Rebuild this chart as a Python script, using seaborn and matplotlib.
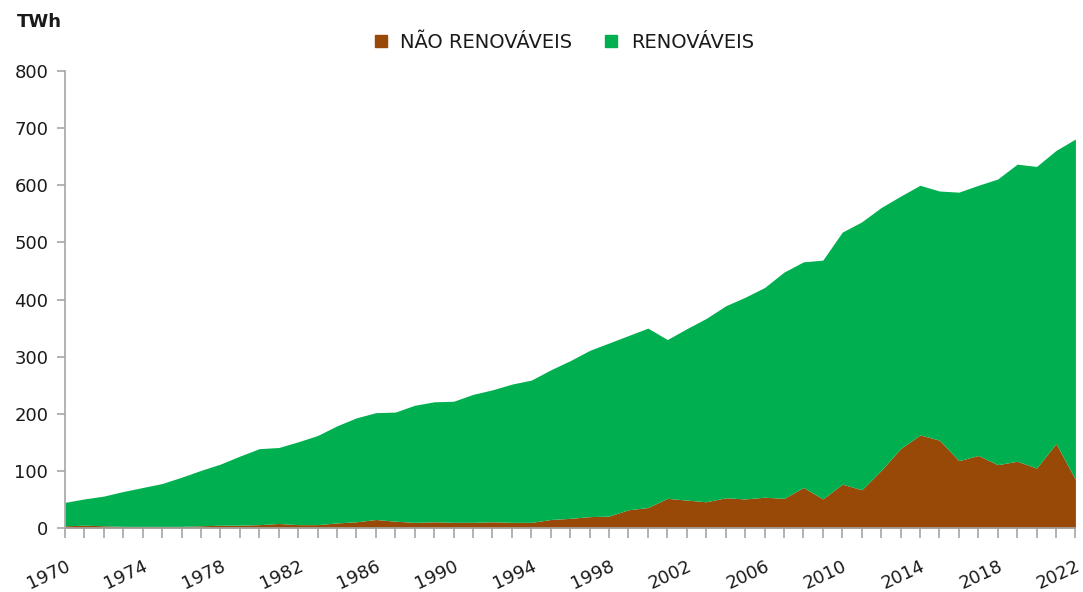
import numpy as np
import pandas as pd
import seaborn as sns
import matplotlib
matplotlib.use("Agg")
import matplotlib.pyplot as plt
from matplotlib.lines import Line2D

# data (TWh)
anos = list(range(1970, 2023))

nao_renovaveis = [4, 5, 4, 3, 3, 3, 3, 4, 5, 5,
                  6, 8, 6, 6, 9, 11, 15, 12, 10, 11,
                  10, 10, 11, 10, 10, 15, 17, 20, 21, 32,
                  36, 52, 49, 46, 53, 51, 54, 52, 71, 51,
                  77, 67, 101, 139, 163, 154, 118, 127, 111, 117,
                  105, 148, 85]

renovaveis = [41, 46, 52, 61, 68, 75, 86, 97, 107, 121,
              133, 133, 145, 156, 170, 182, 187, 191, 205, 210,
              212, 224, 231, 242, 249, 262, 276, 291, 303, 305,
              314, 278, 300, 321, 336, 353, 367, 396, 395, 418,
              441, 469, 460, 442, 437, 436, 470, 473, 500, 520,
              528, 513, 596]

series = ["NÃO RENOVÁVEIS", "RENOVÁVEIS"]
cores = ["#984807", "#00B050"]

df = pd.DataFrame({"ano": anos, series[0]: nao_renovaveis, series[1]: renovaveis})

sns.set_theme(style="white")
plt.rcParams["font.family"] = ["DejaVu Sans"]

fig = plt.figure(figsize=(10.83, 5.92), dpi=100)
ax = fig.add_axes([0.060, 0.108, 0.933, 0.772])

ax.stackplot(df["ano"], df[series[0]], df[series[1]], colors=cores, linewidth=0)

ax.set_xlim(1970, 2022)
ax.set_ylim(0, 800)
ax.set_yticks(np.arange(0, 801, 100))
ax.set_xticks(np.arange(1970, 2023, 4))
ax.set_xticks(anos, minor=True)

for s in ["top", "right"]:
    ax.spines[s].set_visible(False)
for s in ["left", "bottom"]:
    ax.spines[s].set_color("#a6a6a6")
    ax.spines[s].set_linewidth(1.2)

ax.tick_params(axis="y", which="major", direction="out", length=6, width=1.2,
               color="#a6a6a6", labelsize=13, labelcolor="#1a1a1a", pad=6, left=True)
ax.tick_params(axis="x", which="both", direction="out", length=7, width=1.2,
               color="#a6a6a6", labelsize=13, labelcolor="#1a1a1a", bottom=True, pad=14)
plt.setp(ax.get_xticklabels(), rotation=25, ha="right", rotation_mode="anchor")

ax.grid(False)

fig.text(0.016, 0.962, "TWh", fontsize=13, fontweight="bold", color="#1a1a1a", va="center")

handles = [Line2D([0], [0], marker="s", linestyle="none", markersize=9,
                  markerfacecolor=c, markeredgecolor=c) for c in cores]
fig.legend(handles, series, loc="center", bbox_to_anchor=(0.515, 0.928), ncol=2,
           frameon=False, fontsize=14, handletextpad=0.0, columnspacing=1.0,
           labelcolor="#1a1a1a")

fig.savefig("out.png", dpi=100)
